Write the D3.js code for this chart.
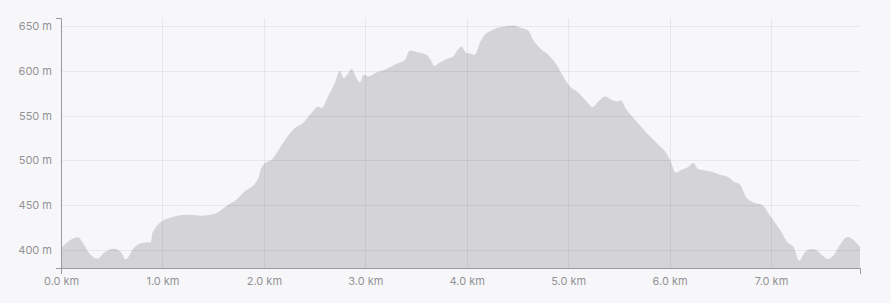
<!DOCTYPE html>
<html>
<head>
<meta charset="utf-8">
<script src="https://cdn.jsdelivr.net/npm/d3@7"></script>
<style>
  html, body { margin: 0; padding: 0; background: #f7f7f9; }
  #chart { width: 891px; height: 303px; }
  .tick text { font-family: Inter, "Liberation Sans", sans-serif; font-size: 11px; fill: #929296; }
</style>
</head>
<body>
<div id="chart"></div>
<script>
// distance along the route (km) and elevation (m)
const distKm = [0.00, 0.168, 0.217, 0.266, 0.359, 0.431, 0.523, 0.596, 0.638, 0.710,
  0.793, 0.885, 0.901, 1.039, 1.252, 1.385, 1.533, 1.647, 1.730, 1.812,
  1.927, 1.950, 1.979, 2.091, 2.189, 2.305, 2.387, 2.469, 2.535, 2.568,
  2.633, 2.699, 2.749, 2.788, 2.821, 2.864, 2.906, 2.946, 2.985, 3.028,
  3.111, 3.209, 3.308, 3.390, 3.439, 3.521, 3.604, 3.653, 3.676, 3.735,
  3.801, 3.866, 3.899, 3.949, 3.991, 4.038, 4.080, 4.129, 4.179, 4.245,
  4.294, 4.376, 4.458, 4.541, 4.606, 4.655, 4.721, 4.803, 4.886, 4.951,
  5.017, 5.099, 5.182, 5.241, 5.306, 5.362, 5.428, 5.477, 5.517, 5.576,
  5.675, 5.773, 5.872, 5.954, 6.003, 6.062, 6.118, 6.184, 6.233, 6.282,
  6.398, 6.496, 6.578, 6.627, 6.694, 6.760, 6.841, 6.907, 7.006, 7.088,
  7.170, 7.219, 7.278, 7.334, 7.400, 7.450, 7.509, 7.564, 7.613, 7.680,
  7.752, 7.811, 7.877];
const elevM = [402, 414, 407.5, 398, 390, 397, 401, 396.3, 389, 400.8,
  407.5, 408.2, 418.7, 434.4, 439.2, 438.1, 441.1, 450.4, 456, 465.3,
  476.5, 481.7, 492.9, 502.7, 519.5, 536.3, 541.9, 553, 560.4, 558.6,
  571.6, 586.6, 600.4, 592.2, 595.9, 602.3, 594, 587.3, 595.9, 594,
  598.5, 602.3, 608.2, 612.7, 623.1, 620.9, 618.3, 610.8, 606, 609.7,
  613.5, 616.4, 622, 627.6, 620.9, 619.4, 618.3, 631.4, 640.7, 645.5,
  648.2, 650, 651.1, 648.2, 645.5, 635.1, 625.8, 618.3, 607.1, 594,
  582.8, 576.1, 566, 559.8, 567.1, 571.6, 567.9, 566, 567.1, 556.7,
  543.6, 530.7, 519.5, 510.1, 500.8, 486.5, 489.6, 492.6, 497.1, 490.3,
  487.7, 484, 481.4, 476.5, 472.8, 457.9, 452.3, 450.4, 435.5, 422.4,
  407.5, 403.7, 387.7, 397, 400.8, 399.2, 393.3, 389.6, 393.3, 405.6,
  414.2, 411.2, 403];

const xTicks = [0, 1, 2, 3, 4, 5, 6, 7];
const yTicks = [400, 450, 500, 550, 600, 650];

const width = 891;
const height = 303;
const margin = { top: 18, right: 31, bottom: 35, left: 61 };

const data = distKm.map((d, i) => ({ km: d, m: elevM[i] }));

const svg = d3.select("#chart").append("svg")
  .attr("width", width)
  .attr("height", height);

const x = d3.scaleLinear()
  .domain([0, d3.max(distKm)])
  .range([margin.left, width - margin.right]);

const y = d3.scaleLinear()
  .domain([379.5, 659.4])
  .range([height - margin.bottom, margin.top]);

const area = d3.area()
  .x(d => x(d.km))
  .y0(y(379.5))
  .y1(d => y(d.m))
  .curve(d3.curveMonotoneX);

svg.append("path")
  .datum(data)
  .attr("d", area)
  .attr("fill", "#d4d4d6");

// grid on top of the fill, as in the original
const grid = svg.append("g").attr("stroke", "rgba(0,0,0,0.06)").attr("stroke-width", 1);
grid.selectAll(".hgrid")
  .data(yTicks)
  .enter().append("line")
  .attr("x1", margin.left)
  .attr("x2", width - margin.right)
  .attr("y1", d => Math.round(y(d)) + 0.5)
  .attr("y2", d => Math.round(y(d)) + 0.5);
grid.selectAll(".vgrid")
  .data(xTicks.slice(1))
  .enter().append("line")
  .attr("x1", d => Math.round(x(d)) + 0.5)
  .attr("x2", d => Math.round(x(d)) + 0.5)
  .attr("y1", margin.top)
  .attr("y2", height - margin.bottom);

const xAxis = d3.axisBottom(x)
  .tickValues(xTicks)
  .tickFormat(d => d3.format(".1f")(d) + " km")
  .tickSizeInner(0)
  .tickSizeOuter(6)
  .tickPadding(9);

const yAxis = d3.axisLeft(y)
  .tickValues(yTicks)
  .tickFormat(d => d + " m")
  .tickSizeInner(0)
  .tickSizeOuter(5)
  .tickPadding(9);

const gx = svg.append("g")
  .attr("transform", "translate(0," + (height - margin.bottom) + ")")
  .call(xAxis);

const gy = svg.append("g")
  .attr("transform", "translate(" + margin.left + ",0)")
  .call(yAxis);

[gx, gy].forEach(g => {
  g.select(".domain").attr("stroke", "#9a9a9e");
  g.selectAll(".tick line").remove();
});
</script>
</body>
</html>
